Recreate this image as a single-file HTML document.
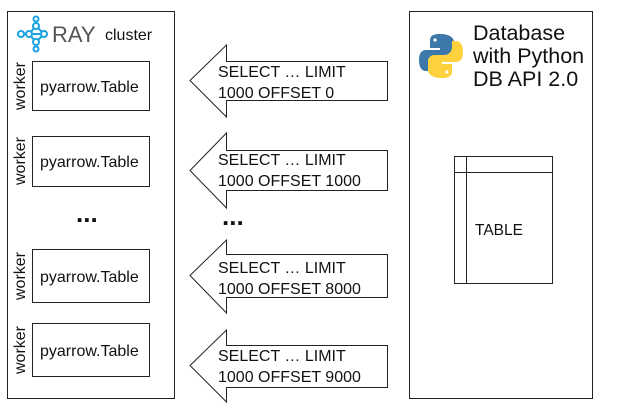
<!DOCTYPE html>
<html><head><style>
body{margin:0;background:#fff;}
svg text{font-family:"Liberation Sans",sans-serif;}
</style></head><body>
<svg width="624" height="413" viewBox="0 0 624 413" xmlns="http://www.w3.org/2000/svg">
<rect x="7.5" y="11.5" width="167" height="387" fill="#fff" stroke="#222" stroke-width="1"/>
<rect x="409.5" y="11.5" width="183" height="387" fill="#fff" stroke="#222" stroke-width="1"/>
<!-- ray logo -->
<g stroke="#1aa3e0" stroke-width="2" fill="none">
<circle cx="21" cy="34" r="3"/><circle cx="29" cy="34" r="3"/><circle cx="36" cy="26" r="3"/><circle cx="36" cy="42" r="3"/><circle cx="44" cy="34" r="3"/><circle cx="36" cy="19" r="2.5"/><circle cx="36" cy="49" r="2.5"/>
<path d="M24 34h2M32 34h9M31 32l3-4M31 36l3 4M38 28l4 4M38 40l4-4"/>
</g>
<text x="52" y="42" font-size="22" fill="#555">RAY</text>
<text x="105" y="40" font-size="16" fill="#111">cluster</text>
<!-- workers -->
<g font-size="16" fill="#111">
<rect x="32.5" y="61.5" width="117" height="49" fill="none" stroke="#222"/>
<text x="40" y="92">pyarrow.Table</text>
<text transform="translate(25,86) rotate(-90)" text-anchor="middle">worker</text>
<rect x="32.5" y="136.5" width="117" height="50" fill="none" stroke="#222"/>
<text x="40" y="167">pyarrow.Table</text>
<text transform="translate(25,161) rotate(-90)" text-anchor="middle">worker</text>
<rect x="32.5" y="249.5" width="117" height="53" fill="none" stroke="#222"/>
<text x="40" y="282">pyarrow.Table</text>
<text transform="translate(25,276) rotate(-90)" text-anchor="middle">worker</text>
<rect x="32.5" y="323.5" width="117" height="53" fill="none" stroke="#222"/>
<text x="40" y="356">pyarrow.Table</text>
<text transform="translate(25,350) rotate(-90)" text-anchor="middle">worker</text>
<text x="76" y="222" font-size="26" font-weight="bold">...</text>
<text x="222" y="225" font-size="26" font-weight="bold">...</text>
</g>
<!-- arrows -->
<g fill="#fff" stroke="#222" stroke-width="1">
<path d="M190 80.5L226.5 45V61.5H387.5V100.5H226.5V117Z"/>
<path d="M190 170.5L226.5 133V150.5H387.5V190.5H226.5V208Z"/>
<path d="M190 275.5L226.5 240V254.5H387.5V297.5H226.5V313Z"/>
<path d="M190 365.5L226.5 330V345.5H387.5V387.5H226.5V402Z"/>
</g>
<g font-size="16" fill="#111">
<text x="218" y="77">SELECT … LIMIT</text><text x="218" y="98">1000 OFFSET 0</text>
<text x="218" y="165">SELECT … LIMIT</text><text x="218" y="186">1000 OFFSET 1000</text>
<text x="218" y="273">SELECT … LIMIT</text><text x="218" y="294">1000 OFFSET 8000</text>
<text x="218" y="361">SELECT … LIMIT</text><text x="218" y="382">1000 OFFSET 9000</text>
</g>
<!-- python logo -->
<path d="M440 34c-10 0-10 4-10 8v6h10v2h-14c-5 0-7 4-7 10s2 11 7 11h4v-6c0-4 3-8 8-8h10c3 0 6-3 6-6v-9c0-4-4-8-14-8z" fill="#3c78aa"/>
<path d="M442 78c10 0 10-4 10-8v-6h-10v-2h14c5 0 7-4 7-10s-2-11-7-11h-4v6c0 4-3 8-8 8h-10c-3 0-6 3-6 6v9c0 4 4 8 14 8z" fill="#fdd23e"/>
<circle cx="435" cy="40" r="1.6" fill="#fff"/><circle cx="447" cy="72" r="1.6" fill="#fff"/>
<g font-size="21.5" fill="#111">
<text x="473" y="40">Database</text>
<text x="473" y="63">with Python</text>
<text x="473" y="86">DB API 2.0</text>
</g>
<!-- table -->
<g fill="none" stroke="#222">
<rect x="454.5" y="156.5" width="98" height="127"/>
<path d="M454.5 172.5H552.5M466.5 156.5V283.5"/>
</g>
<text x="475" y="235" font-size="15.5" fill="#111">TABLE</text>
</svg>
</body></html>
